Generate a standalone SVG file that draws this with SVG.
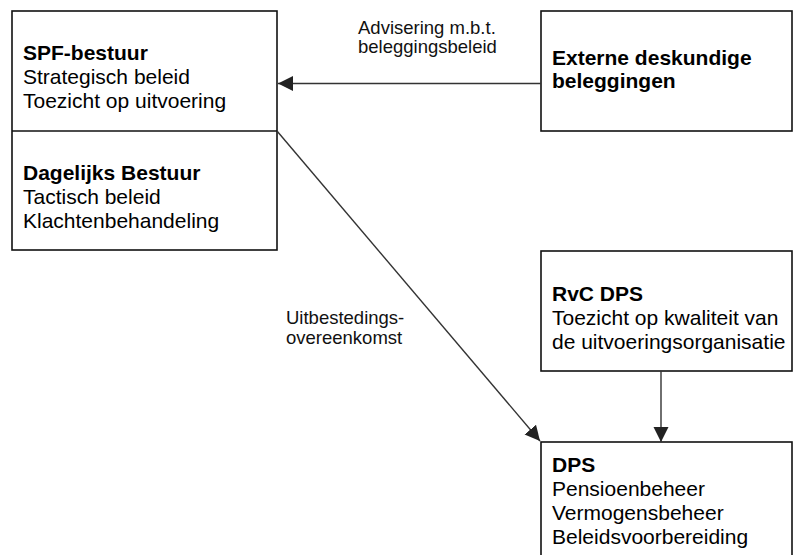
<svg xmlns="http://www.w3.org/2000/svg" width="793" height="555" viewBox="0 0 793 555">
<style>
.box{fill:#fff;stroke:#111;stroke-width:1.6}
.t{font-family:"Liberation Sans",Arial,sans-serif;font-size:21px;fill:#000}
.b{font-weight:bold}
.lbl{font-family:"Liberation Sans",Arial,sans-serif;font-size:18.5px;fill:#111}
.con{fill:none;stroke:#333;stroke-width:1.4}
</style>
<defs>
<marker id="ah" markerUnits="userSpaceOnUse" markerWidth="16" markerHeight="16" refX="15" refY="7.5" orient="auto">
<path d="M0,0 L15,7.5 L0,15 z" fill="#222"/>
</marker>
</defs>
<rect width="793" height="555" fill="#fff"/>
<g id="spf-bestuur">
<rect class="box" x="12" y="11" width="265" height="239"/>
<line x1="12" y1="131" x2="277" y2="131" stroke="#111" stroke-width="1.6"/>
<text class="t"><tspan class="b" x="23" y="60">SPF-bestuur</tspan><tspan x="23" y="84">Strategisch beleid</tspan><tspan x="23" y="108">Toezicht op uitvoering</tspan></text>
</g>
<g id="dagelijks-bestuur">
<text class="t"><tspan class="b" x="23" y="180">Dagelijks Bestuur</tspan><tspan x="23" y="204">Tactisch beleid</tspan><tspan x="23" y="228">Klachtenbehandeling</tspan></text>
</g>
<g id="externe-deskundige">
<rect class="box" x="541" y="11" width="251" height="120"/>
<text class="t b"><tspan x="552" y="65">Externe deskundige</tspan><tspan x="552" y="88">beleggingen</tspan></text>
</g>
<g id="rvc-dps">
<rect class="box" x="541" y="251" width="251" height="120"/>
<text class="t"><tspan class="b" x="552" y="301">RvC DPS</tspan><tspan x="552" y="325">Toezicht op kwaliteit van</tspan><tspan x="552" y="349">de uitvoeringsorganisatie</tspan></text>
</g>
<g id="dps">
<rect class="box" x="541" y="442" width="251" height="130"/>
<text class="t"><tspan class="b" x="552" y="472">DPS</tspan><tspan x="552" y="496">Pensioenbeheer</tspan><tspan x="552" y="520">Vermogensbeheer</tspan><tspan x="552" y="544">Beleidsvoorbereiding</tspan></text>
</g>
<g id="connectors">
<line class="con" x1="541" y1="83.5" x2="278" y2="83.5" marker-end="url(#ah)"/>
<line class="con" x1="277" y1="131" x2="540" y2="441" marker-end="url(#ah)"/>
<line class="con" x1="661" y1="371" x2="661" y2="442" stroke="#000" marker-end="url(#ah)"/>
<text class="lbl"><tspan x="358" y="34">Advisering m.b.t.</tspan><tspan x="358" y="53">beleggingsbeleid</tspan></text>
<text class="lbl"><tspan x="286" y="324">Uitbestedings-</tspan><tspan x="286" y="344">overeenkomst</tspan></text>
</g>
</svg>
